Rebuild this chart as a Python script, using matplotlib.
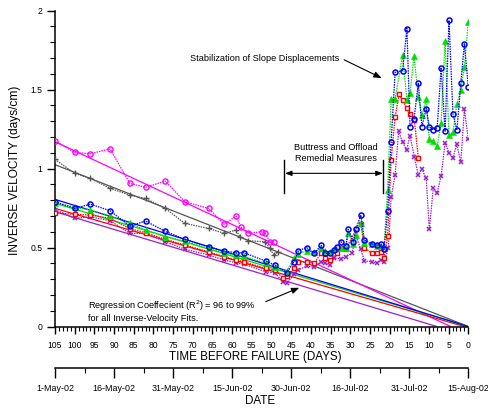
import matplotlib
matplotlib.use("Agg")
import matplotlib.pyplot as plt
from matplotlib.ticker import MultipleLocator, FixedLocator, FixedFormatter

plt.rcParams['font.family'] = ['Liberation Sans', 'DejaVu Sans']

# ---------------- data ----------------
days_blue = [105, 100, 96, 91, 86, 82, 77, 72, 66, 62, 59, 57,
             51.5, 49.2, 46.1, 44.3, 43.2, 41.1, 39.2, 37.4, 36.3, 35.1,
             34.0, 33.4, 32.4, 31.1, 30.5, 29.2, 28.5, 27.3, 26.4, 24.5,
             23.3, 22.2, 21.4, 20.5, 19.6, 18.6, 16.7, 15.6, 14.8, 13.8,
             12.7, 11.8, 10.7, 9.9, 8.9, 7.9, 6.9, 5.9, 4.9, 3.9,
             2.9, 1.9, 1.0, 0]
vals_blue = [0.79, 0.748, 0.775, 0.733, 0.636, 0.668, 0.603, 0.552, 0.505, 0.478, 0.467, 0.467,
             0.415, 0.389, 0.34, 0.41, 0.48, 0.50, 0.463, 0.514, 0.463, 0.463,
             0.484, 0.505, 0.537, 0.511, 0.615, 0.537, 0.62, 0.706, 0.547, 0.522,
             0.516, 0.522, 0.489, 0.733, 1.17, 1.61, 1.62, 1.887, 1.265, 1.313,
             1.54, 1.265, 1.38, 1.265, 1.244, 1.26, 1.64, 1.237, 1.94, 1.345,
             1.244, 1.54, 1.79, 1.518]

days_green = [105, 100, 96, 91, 86, 82, 77, 72, 66, 62, 59, 57,
              51.5, 49.2, 46.1, 44.3, 43.2, 41.1, 39.2, 37.4, 36.3, 35.1,
              34.0, 32.4, 31.1, 30.5, 29.2, 28.5, 27.3, 26.4, 24.5, 23.3,
              22.2, 21.4, 20.5, 19.6, 18.6, 16.7, 15.6, 14.8, 13.8, 12.7,
              11.8, 10.7, 9.9, 8.9, 7.9, 6.9, 5.9, 4.9, 3.9, 2.9,
              1.9, 1.0, 0]
vals_green = [0.78, 0.757, 0.737, 0.70, 0.653, 0.611, 0.568, 0.54, 0.495, 0.465, 0.45, 0.445,
              0.40, 0.375, 0.35, 0.432, 0.46, 0.48, 0.47, 0.495, 0.48, 0.47,
              0.49, 0.50, 0.50, 0.59, 0.52, 0.58, 0.653, 0.526, 0.52, 0.51,
              0.51, 0.51, 0.864, 1.44, 1.44, 1.718, 1.433, 1.476, 1.712, 1.455,
              1.339, 1.438, 1.185, 1.176, 1.14, 1.29, 1.81, 1.21, 1.23, 1.41,
              1.50, 1.644, 1.93]

days_red = [105, 100, 96, 91, 86, 82, 77, 72, 66, 62, 59, 57,
            51.5, 49.2, 47.0, 46.1, 44.3, 43.2, 41.1, 39.2, 37.4, 36.3,
            35.1, 33.4, 32.4, 31.1, 28.5, 27.3, 26.4, 24.5, 23.3, 22.2,
            21.4, 20.5, 19.6, 18.6, 17.6, 16.7, 15.7, 14.8, 13.7, 12.7]
vals_red = [0.72, 0.71, 0.706, 0.685, 0.62, 0.594, 0.552, 0.516, 0.473, 0.442, 0.421, 0.41,
            0.368, 0.358, 0.305, 0.32, 0.368, 0.41, 0.41, 0.40, 0.463, 0.432,
            0.421, 0.463, 0.495, 0.49, 0.615, 0.647, 0.50, 0.463, 0.463, 0.473,
            0.432, 0.575, 1.054, 1.324, 1.47, 1.434, 1.385, 1.345, 1.307, 1.07]

days_purple = [105, 100, 96, 91, 86, 82, 77, 72, 66, 62, 59, 57,
               51.5, 49.2, 47.0, 46.1, 44.3, 43.2, 41.1, 39.2, 37.4, 36.3,
               35.1, 34.0, 32.4, 31.1, 29.6, 28.5, 27.3, 26.4, 24.5, 23.3,
               22.2, 21.4, 20.3, 19.6, 18.6, 17.7, 16.7, 15.7, 14.8, 13.7,
               12.7, 11.8, 10.7, 9.9, 8.9, 7.9, 6.9, 5.9, 4.9, 3.9,
               2.9, 1.9, 1.0, 0]
vals_purple = [0.74, 0.685, 0.695, 0.67, 0.59, 0.59, 0.537, 0.489, 0.453, 0.421, 0.404, 0.394,
               0.347, 0.34, 0.284, 0.273, 0.33, 0.358, 0.383, 0.375, 0.41, 0.40,
               0.389, 0.432, 0.43, 0.442, 0.463, 0.568, 0.489, 0.416, 0.41, 0.40,
               0.421, 0.41, 0.495, 0.818, 0.959, 1.235, 1.17, 1.117, 1.208, 1.075,
               0.959, 0.997, 0.938, 0.615, 0.875, 0.847, 0.953, 1.163, 1.10, 1.07,
               1.153, 1.04, 1.375, 1.19]

days_magenta = [105, 100, 96, 91, 86, 82, 77, 72, 66, 62, 59, 57.8, 56, 52.5, 51.6, 50.5, 49.3]
vals_magenta = [1.176, 1.102, 1.094, 1.125, 0.906, 0.881, 0.921, 0.79, 0.748, 0.647, 0.699,
                0.63, 0.59, 0.60, 0.594, 0.537, 0.537]

days_gray = [105, 100, 96, 91, 86, 82, 77, 72, 66, 62, 59, 58, 56, 51.6, 50.5, 49.3, 48.4]
vals_gray = [1.058, 0.97, 0.938, 0.875, 0.832, 0.811, 0.748, 0.653, 0.621, 0.59, 0.611,
             0.568, 0.543, 0.537, 0.495, 0.45, 0.473]

# inverse-velocity fit lines: value at day 105 and predicted failure day (value 0)
fit_start = {'blue': 0.805, 'green': 0.78, 'red': 0.748, 'purple': 0.727, 'magenta': 1.17, 'gray': 1.025}
fit_zero_day = {'blue': 0, 'green': 0, 'red': 1, 'purple': 8, 'magenta': 4.5, 'gray': 0}

day_ticks = list(range(105, -1, -5))
date_tick_days = [105, 90, 75, 60, 45, 30, 15, 0]
date_labels = ['1-May-02', '16-May-02', '31-May-02', '15-Jun-02', '30-Jun-02',
               '16-Jul-02', '31-Jul-02', '15-Aug-02']

# ---------------- figure ----------------
W, H = 489, 408
fig = plt.figure(figsize=(W / 100, H / 100), dpi=100)
L, R, T, B = 55, 468.3, 10.7, 326.5
ax = fig.add_axes([L / W, 1 - B / H, (R - L) / W, (B - T) / H])
ax.set_xlim(105, 0)
ax.set_ylim(0, 2)

colors = {'blue': '#0000FF', 'green': '#00E000', 'red': '#FF0000',
          'purple': '#9B1FCF', 'magenta': '#FF00FF', 'gray': '#555555'}

# fit lines
for key in ['gray', 'magenta', 'purple', 'red', 'green', 'blue']:
    ax.plot([105, fit_zero_day[key]], [fit_start[key], 0], color=colors[key], lw=0.9,
            solid_capstyle='butt', zorder=2)

dot = (0, (1.2, 0.8))
series = [
    ('gray', days_gray, vals_gray, dict(marker='+', ms=4.4, mew=1.0)),
    ('magenta', days_magenta, vals_magenta, dict(marker='o', ms=3.7, mew=1.0, mfc='none')),
    ('purple', days_purple, vals_purple, dict(marker='x', ms=3.5, mew=1.1)),
    ('red', days_red, vals_red, dict(marker='s', ms=3.3, mew=1.0, mfc='white')),
    ('green', days_green, vals_green, dict(marker='^', ms=3.9, mew=0.4)),
    ('blue', days_blue, vals_blue, dict(marker='o', ms=3.6, mew=1.1, mfc='none')),
]
for key, d, v, mk in series:
    ax.plot(d, v, color=colors[key], lw=0.9, ls=dot, zorder=3, **mk)

# axes styling
for s in ['top', 'right']:
    ax.spines[s].set_visible(False)
ax.spines['left'].set_linewidth(1.1)
ax.spines['bottom'].set_linewidth(1.1)
ax.xaxis.set_major_locator(FixedLocator(day_ticks))
ax.xaxis.set_minor_locator(MultipleLocator(1))
ax.set_xticklabels([str(t) for t in day_ticks])
ax.yaxis.set_major_locator(MultipleLocator(0.5))
ax.yaxis.set_minor_locator(MultipleLocator(0.1))
ax.yaxis.set_major_formatter(plt.FuncFormatter(lambda v, p: ('%g' % v)))
ax.tick_params(axis='x', which='major', direction='out', length=4.8, width=1.0, labelsize=6.2, pad=5.5)
ax.tick_params(axis='x', which='minor', direction='out', length=2.9, width=0.8)
ax.tick_params(axis='y', which='major', direction='out', length=6, width=1.0, labelsize=6.2, pad=3.2)
ax.tick_params(axis='y', which='minor', direction='out', length=3.6, width=0.8)

# date axis
ax2 = ax.twiny()
ax2.set_xlim(105, 0)
for s in ['top', 'right', 'left']:
    ax2.spines[s].set_visible(False)
ax2.spines['bottom'].set_visible(True)
ax2.spines['bottom'].set_linewidth(1.1)
ax2.xaxis.set_ticks_position('bottom')
ax2.xaxis.set_label_position('bottom')
ax2.spines['bottom'].set_position(('outward', (368.3 - B) * 0.72))
ax2.xaxis.set_major_locator(FixedLocator(date_tick_days))
ax2.xaxis.set_major_formatter(FixedFormatter(date_labels))
ax2.xaxis.set_minor_locator(FixedLocator([97.5, 82.5, 67.5, 52.5, 37.5, 22.5, 7.5]))
ax2.tick_params(axis='x', which='major', direction='out', length=7.2, width=1.0, labelsize=6.4, pad=4.2)
ax2.tick_params(axis='x', which='minor', direction='out', length=3.6, width=0.8)

# axis labels
fig.text(15 / W, 1 - 170 / H, 'INVERSE VELOCITY (days/cm)', rotation=90, ha='center', va='center', fontsize=8.6)
fig.text(255.5 / W, 1 - 357 / H, 'TIME BEFORE FAILURE (DAYS)', ha='center', va='center', fontsize=8.4)
fig.text(260 / W, 1 - 400.5 / H, 'DATE', ha='center', va='center', fontsize=8.4)

# annotations
ax.text(70.7, 1.70, 'Stabilization of Slope Displacements', ha='left', va='center', fontsize=6.6, zorder=5)
ax.annotate('', xy=(21.4, 1.566), xytext=(32.2, 1.697),
            arrowprops=dict(arrowstyle='-|>,head_length=0.45,head_width=0.18', color='black', lw=0.8))

ax.text(33.7, 1.10, 'Buttress and Offload\nRemedial Measures', ha='center', va='center',
        fontsize=6.6, linespacing=1.25, zorder=5)
ax.plot([46.7, 46.7], [0.847, 1.054], color='black', lw=1.0)
ax.plot([21.6, 21.6], [0.847, 1.054], color='black', lw=1.0)
ax.annotate('', xy=(21.7, 0.97), xytext=(46.6, 0.97),
            arrowprops=dict(arrowstyle='<|-|>,head_length=0.4,head_width=0.15', color='black', lw=0.8,
                            shrinkA=0, shrinkB=0))

ax.text(96.5, 0.101, 'Regression Coeffecient (R$^2$) = 96 to 99%\nfor all Inverse-Velocity Fits.',
        ha='left', va='center', fontsize=6.6, linespacing=1.2, zorder=5)
ax.annotate('', xy=(42.3, 0.252), xytext=(52.1, 0.151),
            arrowprops=dict(arrowstyle='-|>,head_length=0.45,head_width=0.18', color='black', lw=0.8))

fig.savefig('out.png', dpi=100)
